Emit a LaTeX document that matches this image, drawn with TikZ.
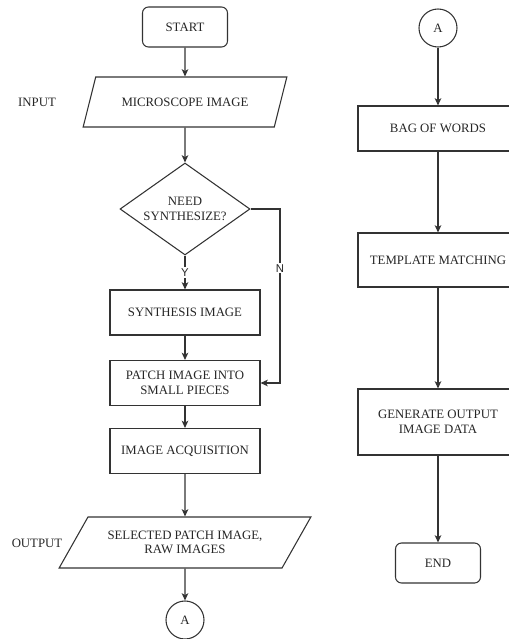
\documentclass[tikz,border=0pt]{standalone}
\usepackage{fontspec}
\setmainfont{Liberation Serif}
\newfontfamily\labelfont{Liberation Sans}
\usetikzlibrary{shapes.geometric,arrows.meta}

\begin{document}
\begin{tikzpicture}[x=0.75pt, y=-0.75pt, >={Stealth[length=5.5pt,width=5pt,inset=1.5pt]},
	every node/.style={font=\fontsize{9.6}{11}\selectfont, text=black!85},
	flowline/.style={draw=black!80, line width=0.8pt},
	terminal/.style={flowline, rounded corners=4.5pt, minimum width=63.75pt, minimum height=30pt},
	process/.style={flowline, minimum width=112.5pt, minimum height=33.75pt, align=center, inner sep=1pt},
	io/.style={flowline, trapezium, trapezium stretches=true, align=center, inner sep=1pt},
	decision/.style={flowline, diamond, aspect=1.41, inner sep=0pt, minimum width=97.5pt, minimum height=69pt, align=center},
	connector/.style={flowline, circle, minimum size=28.5pt, inner sep=0pt},
	yn/.style={font=\labelfont\fontsize{8.5}{9}\selectfont, fill=white, inner sep=1pt}]
	% Page frame (the right column is cut off at the edge)
	\useasboundingbox (0,0) rectangle (509,639);
	\clip (0,0) rectangle (509,639);
	
	% Left column
	\node[terminal] (start) at (185,27) {START};
	\node[io, trapezium left angle=51, trapezium right angle=129, minimum width=153pt, minimum height=37.5pt] (input) at (185,102) {MICROSCOPE IMAGE};
	\node[decision] (need) at (185,209) {NEED\\SYNTHESIZE?};
	\node[process] (synth) at (185,312.5) {SYNTHESIS IMAGE};
	\node[process] (patch) at (185,383) {PATCH IMAGE INTO\\SMALL PIECES};
	\node[process] (acq) at (185,451) {IMAGE ACQUISITION};
	\node[io, trapezium left angle=48, trapezium right angle=132, minimum width=189pt, minimum height=38.25pt] (output) at (185,542.5) {SELECTED PATCH IMAGE,\\RAW IMAGES};
	\node[connector] (a1) at (185,620) {A};
	\node (inlbl) at (37,102) {INPUT};
	\node (outlbl) at (37,543) {OUTPUT};
	
	% Right column
	\node[connector] (a2) at (438,28) {A};
	\node[process, minimum width=120pt] (bow) at (438,128.5) {BAG OF WORDS};
	\node[process, minimum width=120pt, minimum height=40.5pt] (tm) at (438,260) {TEMPLATE MATCHING};
	\node[process, minimum width=120pt, minimum height=49.5pt] (gen) at (438,422) {GENERATE OUTPUT\\IMAGE DATA};
	\node[terminal] (end) at (438,563) {END};
	
	% Straight arrows down each column
	\foreach \a/\b in {start/input, input/need, synth/patch, patch/acq, acq/output, output/a1, a2/bow, bow/tm, tm/gen, gen/end} {
		\draw[flowline,->] (\a.south) -- (\b.north);
	}
	
	% Decision branches
	\draw[flowline,->] (need.south) -- node[yn] {Y} (synth.north);
	\coordinate (nbend) at (280,383);
	\draw[flowline,->] (need.east) -| node[yn, pos=0.67] {N} (nbend) -- (patch.east);
\end{tikzpicture}
\end{document}
